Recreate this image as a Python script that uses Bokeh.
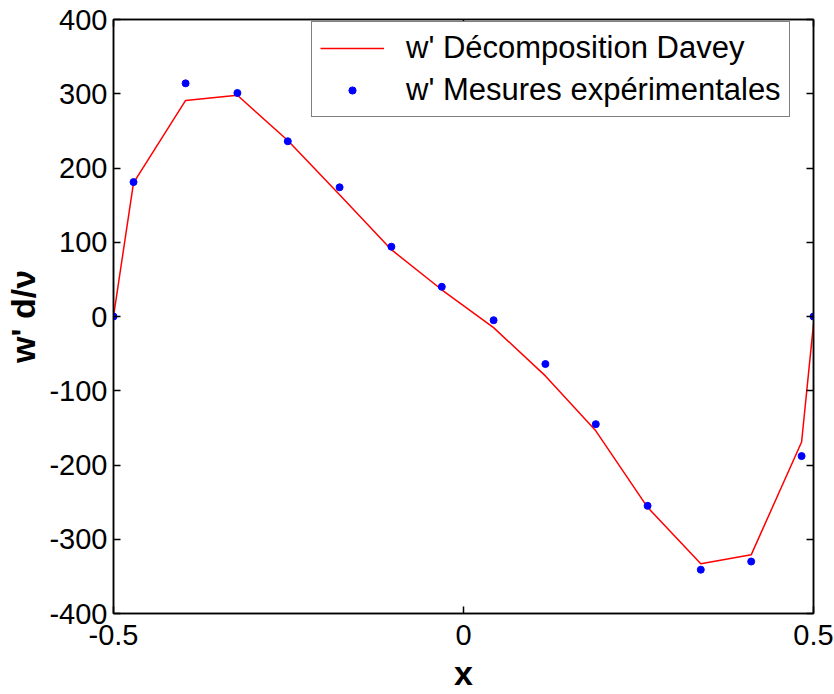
from bokeh.plotting import figure
from bokeh.models import Range1d, LinearAxis, FixedTicker, Legend, LegendItem
from bokeh.embed import file_html
from bokeh.resources import INLINE

# Data
x_davey = [-0.5, -0.4714, -0.397, -0.323, -0.251, -0.177, -0.103, -0.031,
           0.043, 0.117, 0.189, 0.263, 0.339, 0.411, 0.483, 0.5]
w_davey = [0, 180, 291, 298, 237, 164, 90, 36,
           -15, -80, -154, -257, -333, -321, -169, -10]
x_mes = [-0.5, -0.4714, -0.397, -0.323, -0.251, -0.177, -0.103, -0.031,
         0.043, 0.117, 0.189, 0.263, 0.339, 0.411, 0.483, 0.5]
w_mes = [0, 181, 314, 301, 236, 174, 94, 40,
         -5, -64, -145, -255, -341, -330, -188, 0]
x_ticks = [-0.5, 0, 0.5]
x_tick_labels = ["-0.5", "0", "0.5"]
y_ticks = [-400, -300, -200, -100, 0, 100, 200, 300, 400]
y_tick_labels = ["-400", "-300", "-200", "-100", "0", "100", "200", "300", "400"]
label_davey = "w' Décomposition Davey"
label_mes = "w' Mesures expérimentales"

FONT = "Liberation Sans"

p = figure(width=834, height=694, output_backend="svg", toolbar_location=None,
           x_range=Range1d(-0.5, 0.5), y_range=Range1d(-400, 400),
           min_border_left=113, min_border_right=21, min_border_top=19,
           min_border_bottom=79)
p.background_fill_color = "white"
p.border_fill_color = "white"
p.outline_line_color = "black"
p.outline_line_width = 1.5
p.grid.visible = False

r_line = p.line(x_davey, w_davey, line_color="red", line_width=1.5)
r_pts = p.scatter(x_mes, w_mes, marker="circle", size=7, fill_color="blue",
                  line_color="blue")

def style(ax, ticks, labels=None):
    ax.ticker = FixedTicker(ticks=ticks)
    ax.minor_tick_line_color = None
    ax.major_tick_in = 7
    ax.major_tick_out = 0
    ax.major_tick_line_width = 1.5
    ax.axis_line_width = 1.5
    ax.axis_line_color = "black"
    ax.major_tick_line_color = "black"
    ax.major_label_text_font = FONT
    ax.major_label_text_color = "black"
    if labels is not None:
        ax.major_label_text_font_size = "29px"
        ax.major_label_standoff = 3
        ax.major_label_overrides = {t: s for t, s in zip(ticks, labels)}
    else:
        ax.major_label_text_font_size = "0px"
        ax.major_label_standoff = 0

style(p.xaxis[0], x_ticks, x_tick_labels)
style(p.yaxis[0], y_ticks, y_tick_labels)
p.xaxis[0].major_label_standoff = 11
p.yaxis[0].major_label_standoff = 6
p.xaxis[0].axis_label = "x"
p.yaxis[0].axis_label = "w' d/ν"
for ax in (p.xaxis[0], p.yaxis[0]):
    ax.axis_label_text_font = FONT
    ax.axis_label_text_font_style = "bold"
    ax.axis_label_text_font_size = "34px"
    ax.axis_label_text_color = "black"
p.xaxis[0].axis_label_standoff = 6
p.yaxis[0].axis_label_standoff = 4

top = LinearAxis()
style(top, x_ticks)
p.add_layout(top, "above")
right = LinearAxis()
style(right, y_ticks)
p.add_layout(right, "right")

legend = Legend(items=[LegendItem(label=label_davey, renderers=[r_line]),
                       LegendItem(label=label_mes, renderers=[r_pts])],
                location=(198, 496))
legend.label_text_font = FONT
legend.label_text_font_size = "31px"
legend.label_text_color = "black"
legend.border_line_color = "black"
legend.border_line_width = 1.5
legend.padding = 8
legend.spacing = 6
legend.glyph_width = 64
legend.glyph_height = 18
legend.label_height = 32
legend.label_standoff = 22
legend.margin = 0
legend.background_fill_color = "white"
legend.background_fill_alpha = 1
p.add_layout(legend, "center")

open("out.html", "w").write(file_html(p, INLINE))
